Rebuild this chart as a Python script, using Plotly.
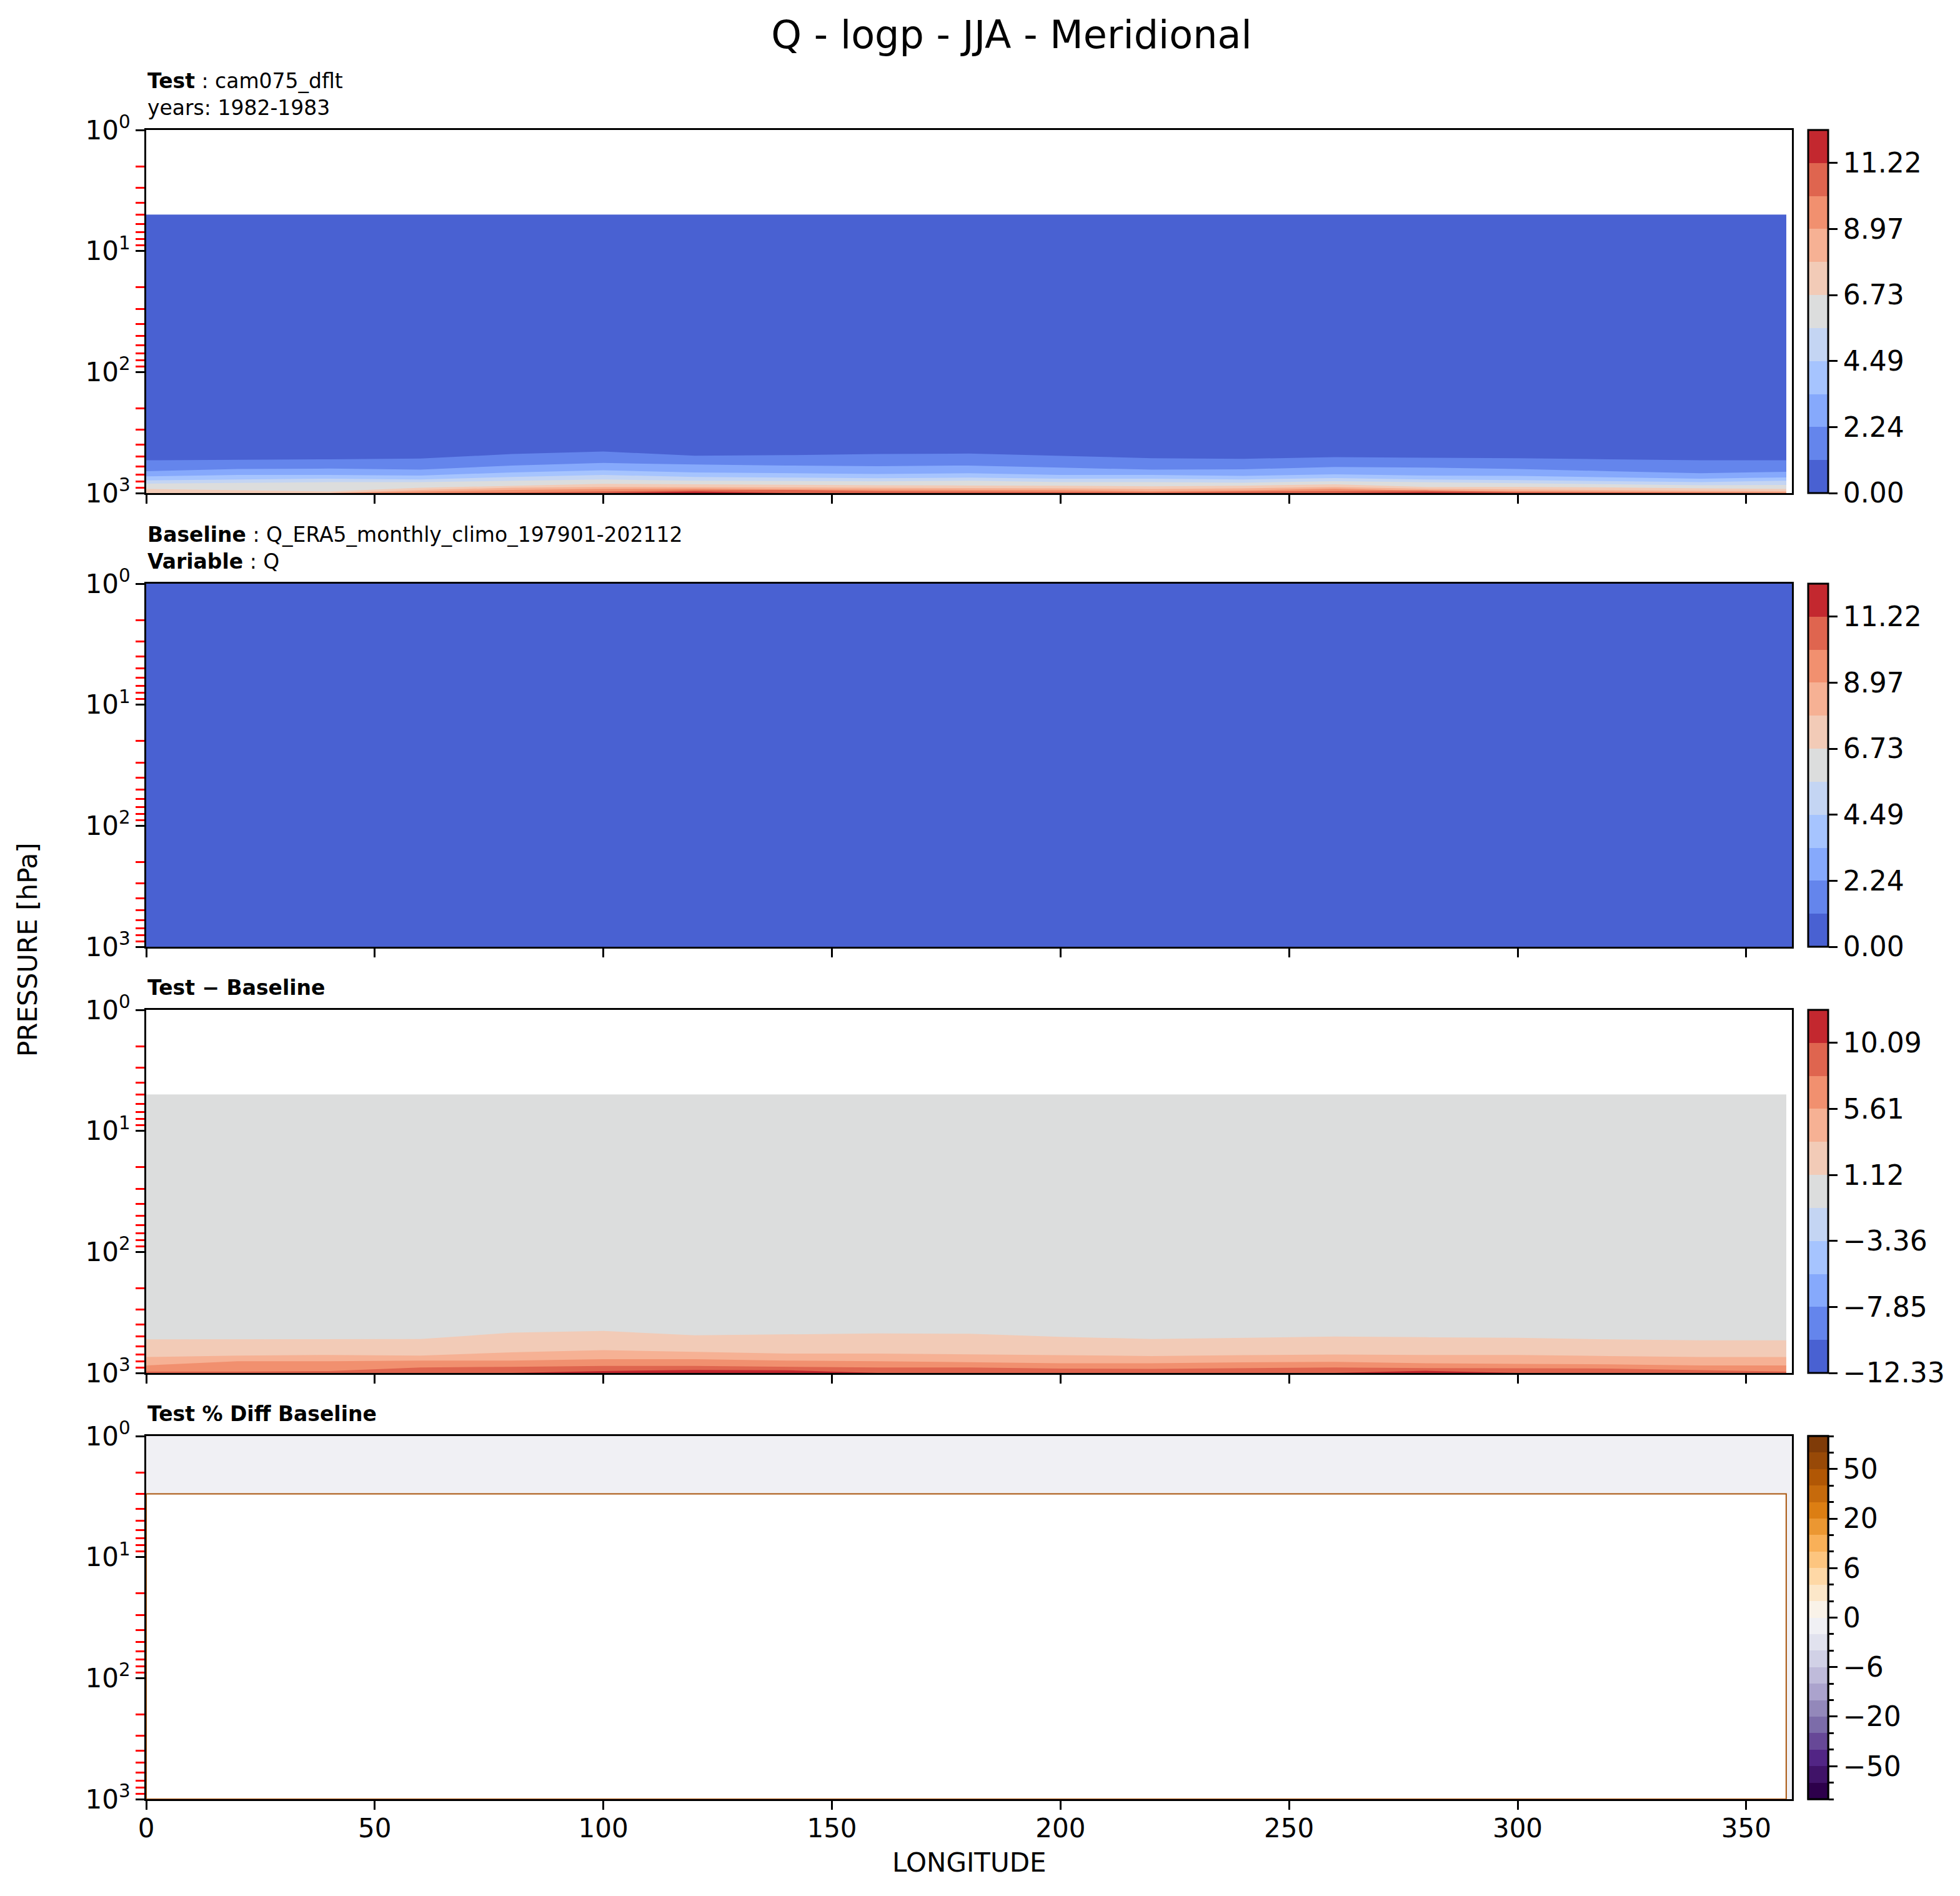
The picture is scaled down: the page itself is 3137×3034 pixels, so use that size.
import numpy as np
import plotly.graph_objects as go

# ---------------- data ----------------
# longitudes (deg E) at which the contour crossings were read (test grid ends at 358.75)
test_lon = [0, 20, 40, 60, 80, 100, 120, 140, 160, 180, 200, 220, 240, 260, 280, 300, 320, 340, 358.75]
baseline_lon = [0, 360]          # baseline grid spans the whole axis
test_top = 5.0                   # hPa, highest level of the test data
baseline_top = 1.0               # hPa, highest level of the baseline data
p_surface = 1000.0               # hPa

# contour levels
q_levels = [0.0, 1.121, 2.243, 3.364, 4.486, 5.607, 6.729, 7.850, 8.972, 10.093, 11.215, 12.336]
diff_levels = [-12.336, -10.093, -7.850, -5.607, -3.364, -1.121, 1.121, 3.364, 5.607, 7.850, 10.093, 12.336]
pct_levels = [-100, -75, -50, -40, -30, -20, -15, -10, -6, -4, -2, 0,
              2, 4, 6, 10, 15, 20, 30, 40, 50, 75, 100]

q_ticktext = ["0.00", "2.24", "4.49", "6.73", "8.97", "11.22"]
diff_ticktext = ["\u221212.33", "\u22127.85", "\u22123.36", "1.12", "5.61", "10.09"]
pct_ticklabels = {-50: "\u221250", -20: "\u221220", -6: "\u22126", 0: "0", 6: "6", 20: "20", 50: "50"}

# Test Q (g/kg): pressure (hPa) where Q first exceeds each level, per longitude
test_p_at_1p12 = [536, 532, 526, 519, 476, 454, 491, 486, 476, 472, 491, 515, 521, 505, 511, 515, 526, 536, 536]
test_p_at_2p24 = [659, 633, 628, 641, 592, 564, 580, 592, 599, 592, 616, 641, 636, 609, 616, 633, 659, 686, 667]
test_p_at_3p36 = [728, 708, 708, 716, 675, 648, 675, 688, 696, 686, 708, 708, 722, 699, 716, 722, 742, 760, 742]
test_p_at_4p49 = [785, 772, 760, 772, 736, 708, 736, 745, 754, 745, 760, 760, 772, 751, 772, 781, 797, 813, 791]
test_p_at_5p61 = [836, 823, 813, 813, 791, 772, 791, 797, 800, 791, 813, 813, 823, 797, 813, 829, 846, 863, 856]
test_p_at_6p73 = [926, 952, 971, 905, 869, 839, 846, 856, 863, 866, 869, 880, 869, 846, 890, 890, 898, 915, 926]
test_p_at_7p85 = [1000, 1000, 1000, 941, 905, 890, 890, 898, 905, 908, 915, 926, 915, 890, 923, 934, 941, 956, 964]
test_p_at_8p97 = [1000, 1000, 1000, 971, 941, 926, 919, 934, 934, 941, 945, 964, 952, 919, 956, 964, 971, 979, 987]
test_p_at_10p09 = [1000, 1000, 1000, 1000, 987, 964, 949, 941, 964, 971, 979, 987, 971, 964, 952, 979, 987, 1000, 1000]
test_p_at_11p22 = [1000, 1000, 1000, 1000, 1000, 1000, 972, 1000, 1000, 1000, 1000, 1000, 1000, 1000, 985, 1000, 1000, 1000, 1000]
test_q_aloft = 0.3               # g/kg, value above the lowest contour

baseline_q = 0.0                 # baseline field is ~0 everywhere

# Test - Baseline: pressure (hPa) where the difference exceeds each level
diff_p_at_1p12 = [528, 528, 528, 524, 465, 450, 488, 480, 472, 474, 503, 524, 513, 501, 507, 513, 528, 538, 538]
diff_p_at_3p36 = [739, 719, 710, 719, 675, 648, 669, 691, 691, 702, 719, 725, 713, 705, 710, 710, 725, 739, 739]
diff_p_at_5p61 = [866, 800, 800, 791, 791, 769, 769, 791, 800, 816, 832, 832, 816, 810, 832, 842, 849, 866, 866]
diff_p_at_7p85 = [975, 975, 964, 901, 890, 876, 876, 890, 901, 901, 919, 926, 912, 901, 912, 919, 919, 949, 975]
diff_p_at_10p09 = [1000, 1000, 1000, 1000, 1000, 964, 945, 950, 1000, 1000, 1000, 1000, 1000, 1000, 960, 1000, 1000, 1000, 1000]
diff_aloft = 0.3

# % difference: defined only from 1 to 3 hPa (baseline ~0 below)
pct_aloft = -1.0
pct_defined_bottom = 3.0

# ---------------- styling ----------------
W, H = 3137, 3034
L_PX, R_PX = 234, 2868
PANEL_TOPS = [208, 934, 1616, 2298]
PANEL_H = 581
FONT = "DejaVu Sans"

coolwarm11 = ["#4961d2", "#6485ec", "#86a9fc", "#a6c4fe", "#c4d5f3", "#dcdddd",
              "#f2cbb7", "#f6b194", "#f1906f", "#df654f", "#c3282f"]
puor22 = ["#2d004b", "#401368", "#522585", "#674897", "#7c6ca9", "#9388ba", "#aba3cd",
          "#bfbbda", "#d1d1e6", "#e1e2ee", "#f0f0f4", "#f9f2e8", "#fce7c9", "#fed8a6",
          "#fdc57f", "#f9b058", "#eb9732", "#dc7e13", "#c66a0c", "#b15705", "#984907", "#7f3b08"]


def discrete_scale(colors):
    n = len(colors)
    out = []
    for i, c in enumerate(colors):
        out += [[i / n, c], [(i + 1) / n, c]]
    return out


def cbar(k, tickvals, ticktext, ticklen=14):
    top = PANEL_TOPS[k]
    return dict(
        x=(2894 - L_PX) / (R_PX - L_PX), xanchor="left", xref="paper", xpad=0,
        y=1 - (top + PANEL_H / 2) / H, yanchor="middle", yref="paper", ypad=0,
        len=PANEL_H / H, lenmode="fraction", thickness=32, thicknessmode="pixels",
        outlinewidth=3, outlinecolor="black",
        ticks="outside", ticklen=ticklen, tickwidth=3, tickcolor="black",
        tickmode="array", tickvals=tickvals, ticktext=ticktext,
        tickfont=dict(family=FONT, size=44, color="black"),
    )


def axes_ref(k):
    return ("x" if k == 0 else f"x{k + 1}", "y" if k == 0 else f"y{k + 1}")


fig = go.Figure()

# ---- panel 1: test ----
xa, ya = axes_ref(0)
fig.add_trace(go.Heatmap(
    x=[test_lon[0], test_lon[-1]], y=[test_top, p_surface], z=[[test_q_aloft]],
    zmin=q_levels[0], zmax=q_levels[-1], colorscale=discrete_scale(coolwarm11),
    colorbar=cbar(0, q_levels[0::2], q_ticktext), hoverinfo="skip", xaxis=xa, yaxis=ya))
test_bounds = [test_p_at_1p12, test_p_at_2p24, test_p_at_3p36, test_p_at_4p49, test_p_at_5p61,
               test_p_at_6p73, test_p_at_7p85, test_p_at_8p97, test_p_at_10p09, test_p_at_11p22]
for k, bound in enumerate(test_bounds, start=1):
    fig.add_trace(go.Scatter(
        x=test_lon + test_lon[::-1], y=bound + [p_surface] * len(test_lon),
        fill="toself", fillcolor=coolwarm11[k], mode="lines", line=dict(width=0),
        hoverinfo="skip", xaxis=xa, yaxis=ya))

# ---- panel 2: baseline ----
xa, ya = axes_ref(1)
fig.add_trace(go.Heatmap(
    x=baseline_lon, y=[baseline_top, p_surface], z=[[baseline_q]],
    zmin=q_levels[0], zmax=q_levels[-1], colorscale=discrete_scale(coolwarm11),
    colorbar=cbar(1, q_levels[0::2], q_ticktext), hoverinfo="skip", xaxis=xa, yaxis=ya))

# ---- panel 3: difference ----
xa, ya = axes_ref(2)
fig.add_trace(go.Heatmap(
    x=[test_lon[0], test_lon[-1]], y=[test_top, p_surface], z=[[diff_aloft]],
    zmin=diff_levels[0], zmax=diff_levels[-1], colorscale=discrete_scale(coolwarm11),
    colorbar=cbar(2, diff_levels[0::2], diff_ticktext), hoverinfo="skip", xaxis=xa, yaxis=ya))
diff_bounds = [(diff_p_at_1p12, 6), (diff_p_at_3p36, 7), (diff_p_at_5p61, 8),
               (diff_p_at_7p85, 9), (diff_p_at_10p09, 10)]
for bound, k in diff_bounds:
    fig.add_trace(go.Scatter(
        x=test_lon + test_lon[::-1], y=bound + [p_surface] * len(test_lon),
        fill="toself", fillcolor=coolwarm11[k], mode="lines", line=dict(width=0),
        hoverinfo="skip", xaxis=xa, yaxis=ya))

# ---- panel 4: percent difference ----
xa, ya = axes_ref(3)
pct_idx = list(range(len(pct_levels)))
pct_z = float(np.interp(pct_aloft, pct_levels, pct_idx))
fig.add_trace(go.Heatmap(
    x=baseline_lon, y=[baseline_top, p_surface], z=[[pct_z]],
    zmin=0, zmax=pct_idx[-1], colorscale=discrete_scale(puor22),
    colorbar=cbar(3, pct_idx, [""] * len(pct_idx), ticklen=8), hoverinfo="skip", xaxis=xa, yaxis=ya))
major_idx = [i for i, v in enumerate(pct_levels) if v in pct_ticklabels]
fig.add_trace(go.Heatmap(
    x=baseline_lon, y=[baseline_top, p_surface], z=[[pct_z]],
    zmin=0, zmax=pct_idx[-1], colorscale=discrete_scale(puor22),
    colorbar=cbar(3, major_idx, [pct_ticklabels[pct_levels[i]] for i in major_idx]),
    hoverinfo="skip", xaxis=xa, yaxis=ya))
fig.add_trace(go.Scatter(
    x=[test_lon[0], test_lon[-1], test_lon[-1], test_lon[0], test_lon[0]],
    y=[pct_defined_bottom, pct_defined_bottom, p_surface, p_surface, pct_defined_bottom],
    fill="toself", fillcolor="white", mode="lines", line=dict(color="#a9550c", width=2),
    hoverinfo="skip", xaxis=xa, yaxis=ya))

# ---------------- axes ----------------
minor_vals = [m * d for d in (1, 10, 100) for m in range(2, 10)]
layout_axes = {}
for k, top in enumerate(PANEL_TOPS):
    suffix = "" if k == 0 else str(k + 1)
    xa, ya = axes_ref(k)
    common = dict(showline=True, linecolor="black", linewidth=3, mirror=True,
                  ticks="outside", ticklen=14, tickwidth=3, tickcolor="black",
                  showgrid=False, zeroline=False, automargin=False,
                  tickfont=dict(family=FONT, size=42, color="black"))
    layout_axes["xaxis" + suffix] = dict(
        common, domain=[0, 1], anchor=ya, range=[0, 360], tickmode="linear", tick0=0, dtick=50,
        showticklabels=(k == 3), ticklabelstandoff=-6)
    layout_axes["yaxis" + suffix] = dict(
        common, domain=[1 - (top + PANEL_H) / H, 1 - top / H], anchor=xa, type="log",
        range=[3, 0], tickmode="array", tickvals=[1, 10, 100, 1000],
        ticktext=["10<sup>0</sup>", "10<sup>1</sup>", "10<sup>2</sup>", "10<sup>3</sup>"],
        minor=dict(tickmode="array", tickvals=minor_vals, ticks="outside", ticklen=14,
                   tickwidth=2.5, tickcolor="red", showgrid=False))

fig.update_layout(
    width=W, height=H,
    margin=dict(l=L_PX, r=W - R_PX, t=0, b=0, autoexpand=False),
    paper_bgcolor="white", plot_bgcolor="white", showlegend=False,
    font=dict(family=FONT, color="black"),
    title=dict(text="Q - logp - JJA - Meridional", x=1619 / W, xanchor="center",
               y=1 - 55 / H, yanchor="middle", xref="container", yref="container",
               font=dict(family=FONT, size=62, color="black")),
    **layout_axes,
)

# ---------------- panel titles and axis labels ----------------
panel_titles = [
    "<b>Test</b> : cam075_dflt<br>years: 1982-1983",
    "<b>Baseline</b> : Q_ERA5_monthly_climo_197901-202112<br><b>Variable</b> : Q",
    "<b>Test \u2212 Baseline</b>",
    "<b>Test % Diff Baseline</b>",
]
for top, text in zip(PANEL_TOPS, panel_titles):
    fig.add_annotation(text=text, xref="paper", yref="paper", x=0, y=1 - top / H,
                       xanchor="left", yanchor="bottom", align="left", showarrow=False,
                       yshift=14, font=dict(family=FONT, size=33, color="black"))

fig.add_annotation(text="PRESSURE [hPa]", xref="paper", yref="paper",
                   x=(44 - L_PX) / (R_PX - L_PX), y=1 - 1520 / H, textangle=-90,
                   xanchor="center", yanchor="middle", showarrow=False,
                   font=dict(family=FONT, size=42, color="black"))
fig.add_annotation(text="LONGITUDE", xref="paper", yref="paper",
                   x=0.5, y=1 - 2980 / H, xanchor="center", yanchor="middle", showarrow=False,
                   font=dict(family=FONT, size=42, color="black"))

# drop the default page margin so the figure sits at the window origin
fig.write_html("out.html", config={"displayModeBar": False},
               post_script="document.body.style.margin = '0';")
